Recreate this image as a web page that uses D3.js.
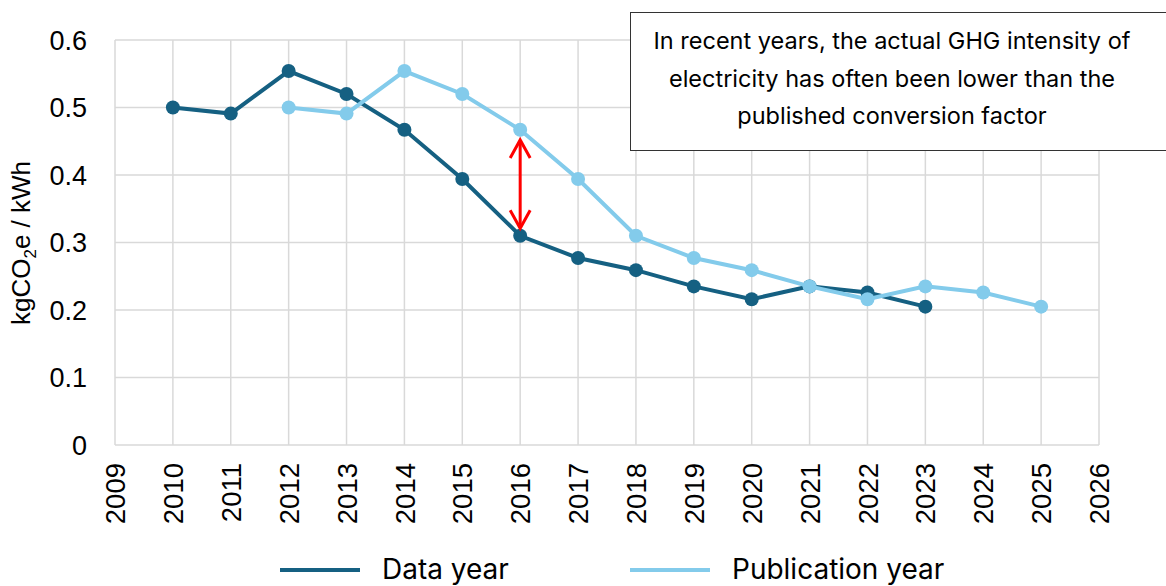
<!DOCTYPE html>
<html><head><meta charset="utf-8">
<script src="https://cdn.jsdelivr.net/npm/d3@7"></script>
<style>
html,body{margin:0;padding:0;background:#fff;}
svg{display:block;}
</style></head>
<body>
<svg id="chart" width="1166" height="586"></svg>
<script>
const dataYears = [2010,2011,2012,2013,2014,2015,2016,2017,2018,2019,2020,2021,2022,2023];
const dataYearValues = [0.500,0.491,0.554,0.520,0.467,0.394,0.310,0.277,0.259,0.235,0.216,0.235,0.226,0.205];
const pubYears = [2012,2013,2014,2015,2016,2017,2018,2019,2020,2021,2022,2023,2024,2025];
const pubYearValues = [0.500,0.491,0.554,0.520,0.467,0.394,0.310,0.277,0.259,0.235,0.216,0.235,0.226,0.205];
const xTicks = [2009,2010,2011,2012,2013,2014,2015,2016,2017,2018,2019,2020,2021,2022,2023,2024,2025,2026];
const yTicks = [0,0.1,0.2,0.3,0.4,0.5,0.6];
const seriesNames = ["Data year","Publication year"];
const arrowYear = 2016;
const arrowFrom = 0.452, arrowTo = 0.321;
const noteLines = ["In recent years, the actual GHG intensity of","electricity has often been lower than the","published conversion factor"];

(function(){
const svg = d3.select("#chart");
const pL = 115, pR = 1099, pT = 40, pB = 445;
const x = d3.scaleLinear().domain([2009,2026]).range([pL,pR]);
const y = d3.scaleLinear().domain([0,0.6]).range([pB,pT]);
const dark = "#156082", light = "#83CBEB", grid = "#d9d9d9";
const tickFont = "'Liberation Sans', Arial, sans-serif";
const textFont = "Inter, 'Open Sans', sans-serif";

// gridlines
const g = svg.append("g");
g.selectAll("line.h").data(yTicks).join("line")
  .attr("x1",pL).attr("x2",pR).attr("y1",d=>y(d)).attr("y2",d=>y(d))
  .attr("stroke",grid).attr("stroke-width",1.5);
g.selectAll("line.v").data(xTicks).join("line")
  .attr("y1",pT).attr("y2",pB).attr("x1",d=>x(d)).attr("x2",d=>x(d))
  .attr("stroke",grid).attr("stroke-width",1.5);

// y axis
const yAxis = svg.append("g").attr("transform",`translate(${pL},0)`)
  .call(d3.axisLeft(y).tickValues(yTicks).tickSize(0).tickPadding(28).tickFormat(d=>d===0?"0":d3.format(".1f")(d)));
yAxis.select(".domain").remove();
yAxis.selectAll("text").attr("font-family",tickFont).attr("font-size",27).attr("fill","#000").attr("dy","0.35em");

// x axis
const xAxis = svg.append("g").attr("transform",`translate(0,${pB})`)
  .call(d3.axisBottom(x).tickValues(xTicks).tickSize(0).tickFormat(d3.format("d")));
xAxis.select(".domain").remove();
xAxis.selectAll("text").attr("font-family",tickFont).attr("font-size",27.5).attr("fill","#000")
  .attr("text-anchor","end").attr("transform","rotate(-90)").attr("x",-18).attr("y",0).attr("dy","0.35em");

// y title
const yt = svg.append("text").attr("transform","translate(30,243) rotate(-90)")
  .attr("text-anchor","middle").attr("font-family",tickFont).attr("font-size",26).attr("fill","#000");
yt.append("tspan").text("kgCO");
yt.append("tspan").text("2").attr("font-size",17).attr("dy",6);
yt.append("tspan").text("e / kWh").attr("dy",-6);

// lines
const line = d3.line().x(d=>x(d[0])).y(d=>y(d[1]));
function drawSeries(xs, vs, color){
  const pts = xs.map((d,i)=>[d,vs[i]]);
  svg.append("path").datum(pts).attr("d",line).attr("fill","none").attr("stroke",color).attr("stroke-width",4);
  svg.append("g").selectAll("circle").data(pts).join("circle")
    .attr("cx",d=>x(d[0])).attr("cy",d=>y(d[1])).attr("r",7).attr("fill",color);
}
drawSeries(dataYears, dataYearValues, dark);
drawSeries(pubYears, pubYearValues, light);

// arrow
const ax = x(arrowYear), ay1 = y(arrowFrom), ay2 = y(arrowTo);
const red = "#ff0000";
svg.append("line").attr("x1",ax).attr("x2",ax).attr("y1",ay1+1).attr("y2",ay2-1).attr("stroke",red).attr("stroke-width",3);
svg.append("path").attr("d",`M${ax-10},${ay1+18}L${ax},${ay1}L${ax+10},${ay1+18}`).attr("fill","none").attr("stroke",red).attr("stroke-width",3);
svg.append("path").attr("d",`M${ax-10},${ay2-18}L${ax},${ay2}L${ax+10},${ay2-18}`).attr("fill","none").attr("stroke",red).attr("stroke-width",3);

// note box
svg.append("rect").attr("x",630.5).attr("y",12.5).attr("width",545).attr("height",138)
  .attr("fill","#fff").attr("stroke","#333").attr("stroke-width",1);
svg.append("g").selectAll("text").data(noteLines).join("text")
  .attr("x",892).attr("y",(d,i)=>49+i*37.5).attr("text-anchor","middle")
  .attr("font-family",textFont).attr("font-size",23.5).attr("fill","#000").text(d=>d);

// legend
const legend = [{name:seriesNames[0],color:dark,x:280},{name:seriesNames[1],color:light,x:630}];
const lg = svg.append("g").selectAll("g").data(legend).join("g").attr("transform",d=>`translate(${d.x},570)`);
lg.append("line").attr("x1",0).attr("x2",80).attr("stroke",d=>d.color).attr("stroke-width",4);
lg.append("text").attr("x",102).attr("y",9).attr("font-family",textFont).attr("font-size",28).attr("fill","#000").text(d=>d.name);
})();
</script>
</body></html>
